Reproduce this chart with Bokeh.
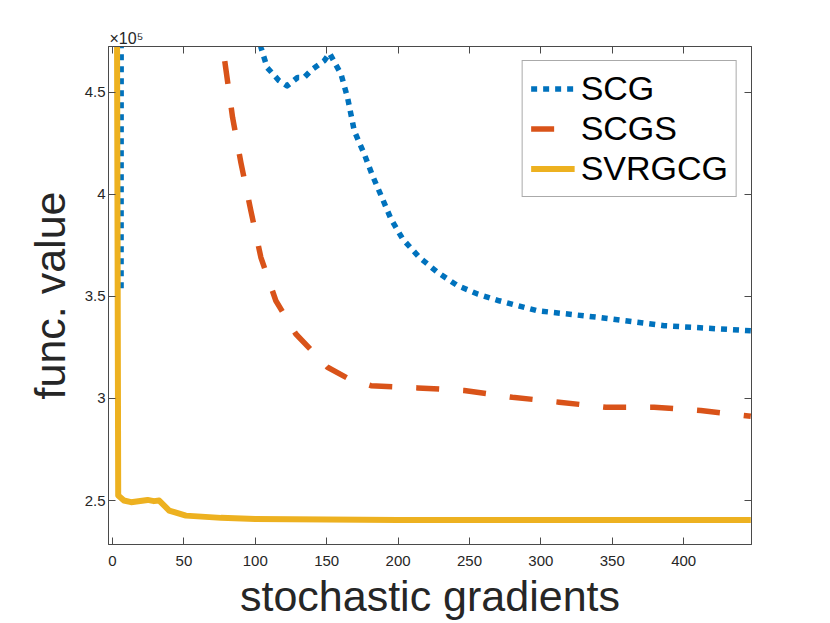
from bokeh.plotting import figure
from bokeh.models import (Range1d, LinearAxis, FixedTicker, CustomJSTickFormatter,
                          Legend, LegendItem, Title)
from bokeh.embed import file_html
from bokeh.resources import INLINE

# ---- data ----
scg_x = [6, 6.5, 90, 104, 108.3, 116.7, 122.3, 129.6, 134.2, 140, 148.2, 152, 160,
         164.6, 169.3, 176.3, 182.1, 189.1, 195, 203.2, 214.8, 227.7, 241.7, 255.7,
         270.8, 297.7, 339.7, 386.3, 447]
scg_y = [3.54e5, 12.0e5, 5.3e5, 4.72e5, 4.622e5, 4.557e5, 4.532e5, 4.573e5, 4.573e5,
         4.614e5, 4.655e5, 4.692e5, 4.59e5, 4.475e5, 4.312e5, 4.198e5, 4.092e5,
         3.978e5, 3.88e5, 3.782e5, 3.692e5, 3.618e5, 3.553e5, 3.512e5, 3.479e5,
         3.43e5, 3.398e5, 3.357e5, 3.332e5]

scgs_x = [6, 70, 77.1, 79.4, 84.1, 89.9, 96.9, 103.9, 114.4, 128.4, 150.6, 165.5,
          181, 213.7, 246.3, 280, 312.8, 345.5, 379.3, 412, 447]
scgs_y = [9.0e5, 5.08e5, 4.73e5, 4.614e5, 4.377e5, 4.157e5, 3.92e5, 3.692e5, 3.479e5,
          3.316e5, 3.153e5, 3.096e5, 3.063e5, 3.052e5, 3.039e5, 3.006e5, 2.982e5,
          2.957e5, 2.957e5, 2.941e5, 2.913e5]

svrgcg_x = [2, 4, 8, 13, 24.6, 29, 32.7, 39.7, 51.4, 76, 100, 150, 200, 250, 300,
            350, 400, 447]
svrgcg_y = [8.0e5, 2.525e5, 2.50e5, 2.492e5, 2.503e5, 2.497e5, 2.50e5, 2.451e5,
            2.426e5, 2.415e5, 2.41e5, 2.407e5, 2.405e5, 2.404e5, 2.404e5, 2.404e5,
            2.404e5, 2.404e5]

x_ticks = [0, 50, 100, 150, 200, 250, 300, 350, 400]
y_ticks = [2.5e5, 3.0e5, 3.5e5, 4.0e5, 4.5e5]

names = ["SCG", "SCGS", "SVRGCG"]
colors = ["#0072BD", "#D95319", "#EDB120"]
exponent_text = "×10⁵"

X0, X1 = -2.8, 447.5
Y0, Y1 = 2.2845e5, 4.725e5

FONT = "Liberation Sans"
TXT = "#262626"
AX = "#4a4a4a"

p = figure(width=814, height=623, output_backend="svg", toolbar_location=None,
           x_range=Range1d(X0, X1), y_range=Range1d(Y0, Y1), title=None,
           min_border_left=108, min_border_right=63, min_border_top=46,
           min_border_bottom=79)
p.background_fill_color = "white"
p.border_fill_color = "white"
p.outline_line_color = AX
p.grid.visible = False

xt = FixedTicker(ticks=x_ticks, minor_ticks=[])
yt = FixedTicker(ticks=y_ticks, minor_ticks=[])
yfmt = CustomJSTickFormatter(code="return (tick/1e5).toString();")
blank = CustomJSTickFormatter(code="return '';")

for ax in p.xaxis:
    ax.ticker = xt
for ax in p.yaxis:
    ax.ticker = yt
    ax.formatter = yfmt

def style_axis(ax):
    ax.axis_line_color = AX
    ax.major_tick_line_color = AX
    ax.major_tick_in = 7
    ax.major_tick_out = 0
    ax.minor_tick_line_color = None
    ax.major_label_text_font = FONT
    ax.major_label_text_color = TXT
    ax.major_label_text_font_size = "15px"
    ax.axis_label_text_font = FONT
    ax.axis_label_text_font_style = "normal"
    ax.axis_label_text_color = TXT
    ax.axis_label_text_font_size = "43px"

style_axis(p.xaxis[0])
style_axis(p.yaxis[0])
p.xaxis[0].axis_label = "stochastic gradients"
p.xaxis[0].major_label_standoff = 11
p.xaxis[0].axis_label_standoff = 3
p.yaxis[0].axis_label = "func. value"
p.yaxis[0].major_label_standoff = 3
p.yaxis[0].axis_label_standoff = 8

top_ax = LinearAxis(ticker=xt, formatter=blank)
style_axis(top_ax)
top_ax.major_label_standoff = 0
p.add_layout(top_ax, "above")
right_ax = LinearAxis(ticker=yt, formatter=blank)
style_axis(right_ax)
right_ax.major_label_standoff = 0
p.add_layout(right_ax, "right")

r1 = p.line(scg_x, scg_y, line_color=colors[0], line_width=5.5,
            line_dash="6 6", line_cap="butt", line_join="round")
r2 = p.line(scgs_x, scgs_y, line_color=colors[1], line_width=5.5,
            line_dash="23 24", line_cap="butt", line_join="round")
r3 = p.line(svrgcg_x, svrgcg_y, line_color=colors[2], line_width=6,
            line_cap="butt", line_join="round")

legend = Legend(items=[LegendItem(label=names[0], renderers=[r1]),
                       LegendItem(label=names[1], renderers=[r2]),
                       LegendItem(label=names[2], renderers=[r3])],
                location="top_right", margin=14, padding=8, spacing=1,
                glyph_width=44, glyph_height=39, label_height=39,
                label_standoff=6,
                label_text_font=FONT, label_text_font_size="34px",
                label_text_color="black",
                border_line_color="#555555", border_line_width=1,
                background_fill_color="white", background_fill_alpha=1)
p.add_layout(legend, "center")

t = Title(text=exponent_text, align="left", offset=1, standoff=0,
          text_font=FONT, text_font_size="16px", text_font_style="normal",
          text_color=TXT)
p.add_layout(t, "above")

open("out.html", "w").write(file_html(p, INLINE))
